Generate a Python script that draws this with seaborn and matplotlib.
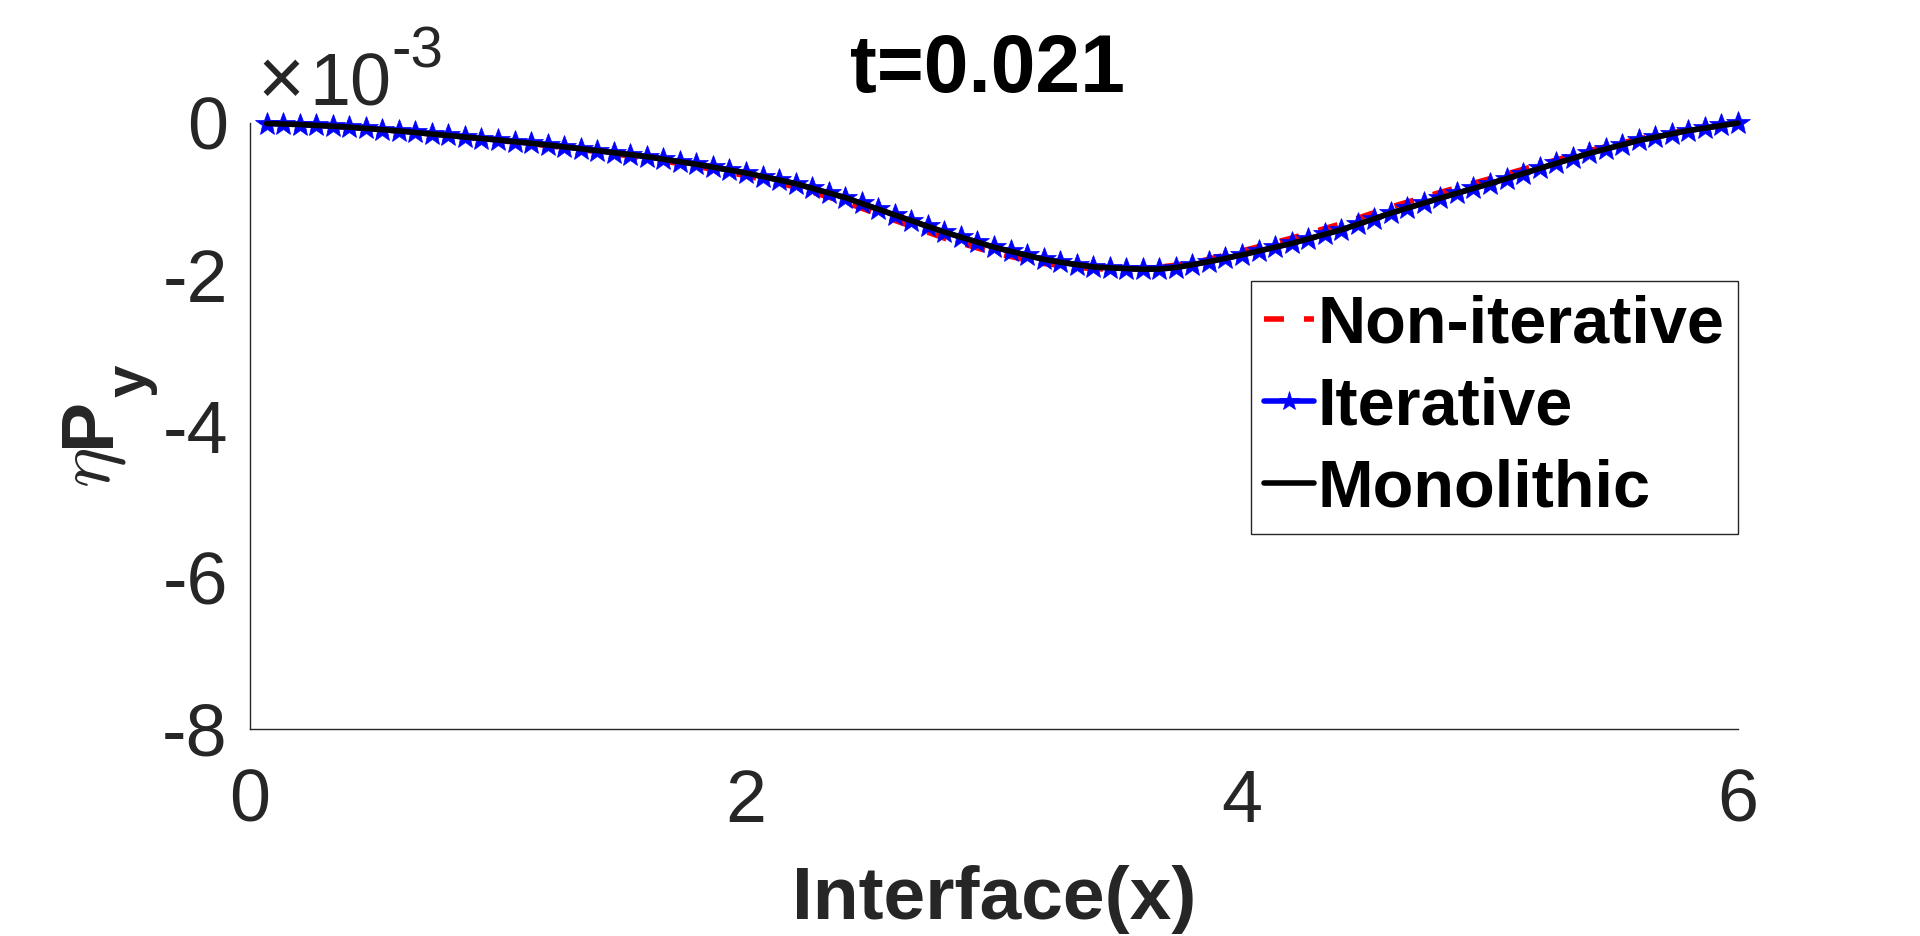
import numpy as np
import matplotlib
matplotlib.use("Agg")
import matplotlib.pyplot as plt
import seaborn as sns

# values are in units of 1e-3 (shown by the x10^-3 note at the top)
x_fine = np.arange(1, 91) / 15.0          # node positions along the interface
x_coarse = np.arange(1, 31) * 0.2

monolithic_y = [-0.007, -0.013, -0.020, -0.032, -0.043, -0.055, -0.072, -0.088, -0.105, -0.125,
                -0.145, -0.165, -0.185, -0.205, -0.225, -0.247, -0.268, -0.290, -0.315, -0.340,
                -0.365, -0.392, -0.418, -0.445, -0.478, -0.512, -0.545, -0.583, -0.622, -0.660,
                -0.707, -0.753, -0.800, -0.862, -0.923, -0.985, -1.062, -1.138, -1.215, -1.290,
                -1.365, -1.440, -1.507, -1.573, -1.640, -1.693, -1.747, -1.800, -1.837, -1.870,
                -1.900, -1.912, -1.922, -1.930, -1.928, -1.908, -1.870, -1.830, -1.787, -1.740,
                -1.690, -1.640, -1.590, -1.530, -1.470, -1.410, -1.337, -1.263, -1.190, -1.123,
                -1.057, -0.990, -0.927, -0.863, -0.800, -0.733, -0.667, -0.600, -0.533, -0.467,
                -0.400, -0.343, -0.287, -0.230, -0.187, -0.143, -0.100, -0.067, -0.033, 0.000]

iterative_y = [-0.007, -0.013, -0.020, -0.032, -0.043, -0.055, -0.072, -0.088, -0.105, -0.125,
               -0.145, -0.165, -0.185, -0.205, -0.225, -0.247, -0.268, -0.290, -0.315, -0.340,
               -0.365, -0.392, -0.418, -0.445, -0.478, -0.512, -0.545, -0.583, -0.622, -0.660,
               -0.707, -0.753, -0.800, -0.862, -0.923, -0.985, -1.062, -1.138, -1.215, -1.290,
               -1.365, -1.440, -1.507, -1.573, -1.640, -1.693, -1.747, -1.800, -1.837, -1.870,
               -1.900, -1.912, -1.922, -1.930, -1.928, -1.908, -1.870, -1.830, -1.787, -1.740,
               -1.690, -1.640, -1.590, -1.530, -1.470, -1.410, -1.337, -1.263, -1.190, -1.123,
               -1.057, -0.990, -0.927, -0.863, -0.800, -0.733, -0.667, -0.600, -0.533, -0.467,
               -0.400, -0.343, -0.287, -0.230, -0.187, -0.143, -0.100, -0.067, -0.033, 0.000]

noniterative_y = [-0.020, -0.055, -0.105, -0.167, -0.230, -0.298, -0.378, -0.465, -0.572, -0.695,
                  -0.845, -1.045, -1.285, -1.520, -1.715, -1.855, -1.925, -1.930, -1.850, -1.690,
                  -1.520, -1.330, -1.110, -0.915, -0.735, -0.550, -0.365, -0.210, -0.090, 0.000]

x_ticks = [0, 2, 4, 6]
y_ticks = [0, -2, -4, -6, -8]
y_tick_labels = ["0", "-2", "-4", "-6", "-8"]
labels = ["Non-iterative", "Iterative", "Monolithic"]

sns.set_style("white")
plt.rcParams['font.family'] = ['Liberation Sans', 'DejaVu Sans']

W, H = 1920, 936
GREY = "#262626"


def px(x, y):
    # pixel position (from top-left) -> figure fraction
    return x / W, 1 - y / H


fig = plt.figure(figsize=(W / 100, H / 100), dpi=100)
ax = fig.add_axes([250 / W, 1 - 729 / H, (1738 - 250) / W, (729 - 123) / H])

lw = 4.0
sns.lineplot(x=x_coarse, y=noniterative_y, ax=ax, color="red", lw=lw,
             linestyle=(0, (3.6, 3.6)), label=labels[0], clip_on=False)
sns.lineplot(x=x_fine, y=iterative_y, ax=ax, color="blue", lw=lw, marker="*",
             markersize=18, markeredgecolor="blue", markeredgewidth=0.5,
             label=labels[1], clip_on=False)
sns.lineplot(x=x_fine, y=monolithic_y, ax=ax, color="black", lw=lw,
             label=labels[2], clip_on=False)

ax.set_xlim(0, 6)
ax.set_ylim(-8, 0)
ax.set_xticks(x_ticks)
ax.set_xticklabels([str(t) for t in x_ticks])
ax.set_yticks(y_ticks)
ax.set_yticklabels(y_tick_labels)
ax.set_xlabel("")
ax.set_ylabel("")

for s in ["top", "right"]:
    ax.spines[s].set_visible(False)
for s in ["left", "bottom"]:
    ax.spines[s].set_color(GREY)
    ax.spines[s].set_linewidth(1.0)

ax.tick_params(axis="both", direction="in", length=10, width=1, colors=GREY,
               labelsize=53)
ax.tick_params(axis="x", pad=28)
ax.tick_params(axis="y", pad=16)

leg = ax.legend(loc="upper right", bbox_to_anchor=(1.0, 0.739), borderaxespad=0,
                prop={"size": 48, "weight": "bold"}, frameon=True, fancybox=False,
                framealpha=1, edgecolor=GREY, handlelength=0.75, handletextpad=0.05,
                borderpad=0.2, labelspacing=0.3, markerscale=0.8)
leg.get_frame().set_linewidth(1.0)
for t in leg.get_texts():
    t.set_color("black")

# title and axis labels
fig.text(*px(988, 92), "t=0.021", ha="center", va="baseline", fontsize=58,
         fontweight="bold", color="black")
fig.text(*px(994, 919), "Interface(x)", ha="center", va="baseline", fontsize=54,
         fontweight="bold", color=GREY)

# y label: eta P_y, built from pieces
fig.text(*px(110, 468), r"$\eta$", rotation=90, rotation_mode="anchor",
         ha="center", va="baseline", fontsize=55, color=GREY, math_fontfamily="cm")
fig.text(*px(109, 422), "P", rotation=90, rotation_mode="anchor",
         ha="center", va="baseline", fontsize=54, fontweight="bold", color=GREY)
fig.text(*px(146, 381), "y", rotation=90, rotation_mode="anchor",
         ha="center", va="baseline", fontsize=42, fontweight="bold", color=GREY)

# exponent note
fig.text(*px(257, 105), "\u00d7", ha="left", va="baseline", fontsize=58, color=GREY)
fig.text(*px(309, 105), "10", ha="left", va="baseline", fontsize=53, color=GREY)
fig.text(*px(391, 68), "-3", ha="left", va="baseline", fontsize=42, color=GREY)

fig.savefig("out.png", dpi=100)
